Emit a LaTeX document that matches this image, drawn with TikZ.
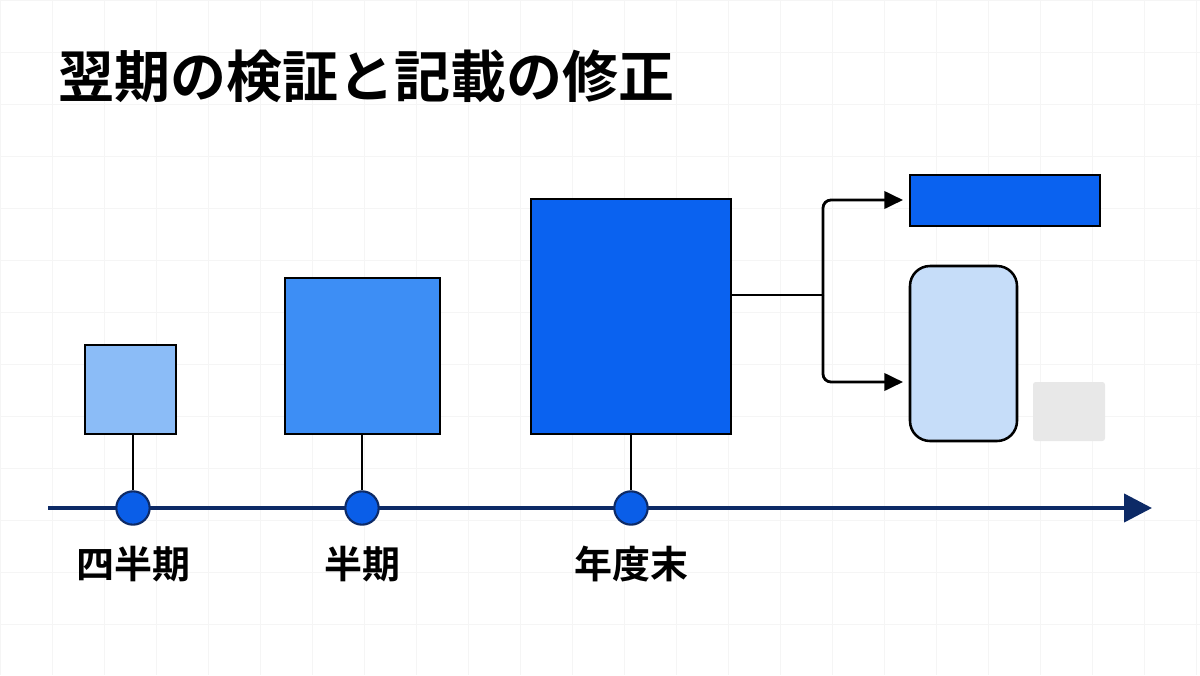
\documentclass[tikz,border=0pt]{standalone}
\usepackage{fontspec}
\newfontfamily\cjk{Noto Sans CJK JP}[BoldFont={Noto Sans CJK JP Bold}]
\usetikzlibrary{arrows.meta}
\definecolor{navy}{HTML}{0D2A66}
\definecolor{c1}{HTML}{8BBCF7}
\definecolor{c2}{HTML}{3D8EF5}
\definecolor{c3}{HTML}{0A62F0}
\definecolor{c4}{HTML}{C6DDF9}
\definecolor{dot}{HTML}{0A5EE8}
\begin{document}
\begin{tikzpicture}[x=0.75pt,y=-0.75pt,
  box/.style={draw=black,line width=1.9pt},
  stem/.style={draw=black,line width=1.6pt},
  dotn/.style={circle,fill=dot,draw=navy,line width=1.6pt,minimum size=25pt,inner sep=0pt},
  lab/.style={font=\cjk\bfseries\fontsize{28.5}{32}\selectfont},
  conn/.style={draw=black,line width=2.1pt,rounded corners=6pt,-{Triangle[length=14pt,width=13pt]}}]
\useasboundingbox (0,0) rectangle (1200,675);
\fill[white] (0,0) rectangle (1200,675);
\foreach \x in {0,52,...,1200} \draw[black!4,line width=0.6pt] (\x,0) -- (\x,675);
\foreach \y in {0,52,...,675} \draw[black!4,line width=0.6pt] (0,\y) -- (1200,\y);
\node[anchor=west,font=\cjk\bfseries\fontsize{42}{48}\selectfont] (title) at (54,76) {翌期の検証と記載の修正};
\coordinate (ax0) at (48,508); \coordinate (ax1) at (1152,508);
\draw[navy,line width=3.2pt,-{Triangle[length=21pt,width=21pt]}] (ax0) -- (ax1);
\node[box,fill=c1,minimum width=68.25pt,minimum height=66.75pt,inner sep=0pt] (b1) at (130.5,389.5) {};
\node[box,fill=c2,minimum width=116.25pt,minimum height=117pt,inner sep=0pt] (b2) at (362.5,356) {};
\node[box,fill=c3,minimum width=150pt,minimum height=176.25pt,inner sep=0pt] (b3) at (631,316.5) {};
\node[dotn] (d1) at (133,508) {};
\node[dotn] (d2) at (362,508) {};
\node[dotn] (d3) at (631,508) {};
\draw[stem] (b1.south -| d1) -- (d1);
\draw[stem] (b2.south -| d2) -- (d2);
\draw[stem] (b3.south) -- (d3);
\node[lab] (l1) at (133,564) {四半期};
\node[lab] (l2) at (362,564) {半期};
\node[lab] (l3) at (631,564) {年度末};
\node[box,fill=c3,minimum width=142.5pt,minimum height=38.25pt,inner sep=0pt] (r1) at (1005,200.5) {};
\node[box,fill=c4,rounded corners=15pt,minimum width=80.25pt,minimum height=131.25pt,inner sep=0pt] (r2) at (963.5,353.5) {};
\node[fill=black!9,rounded corners=2pt,minimum width=54pt,minimum height=44.25pt,inner sep=0pt] (r3) at (1069,411.5) {};
\coordinate (br) at (823,295);
\draw[stem,line width=2.1pt] (b3.east |- br) -- (br);
\draw[conn] (br) |- (903,200);
\draw[conn] (br) |- (903,382);
\end{tikzpicture}
\end{document}
